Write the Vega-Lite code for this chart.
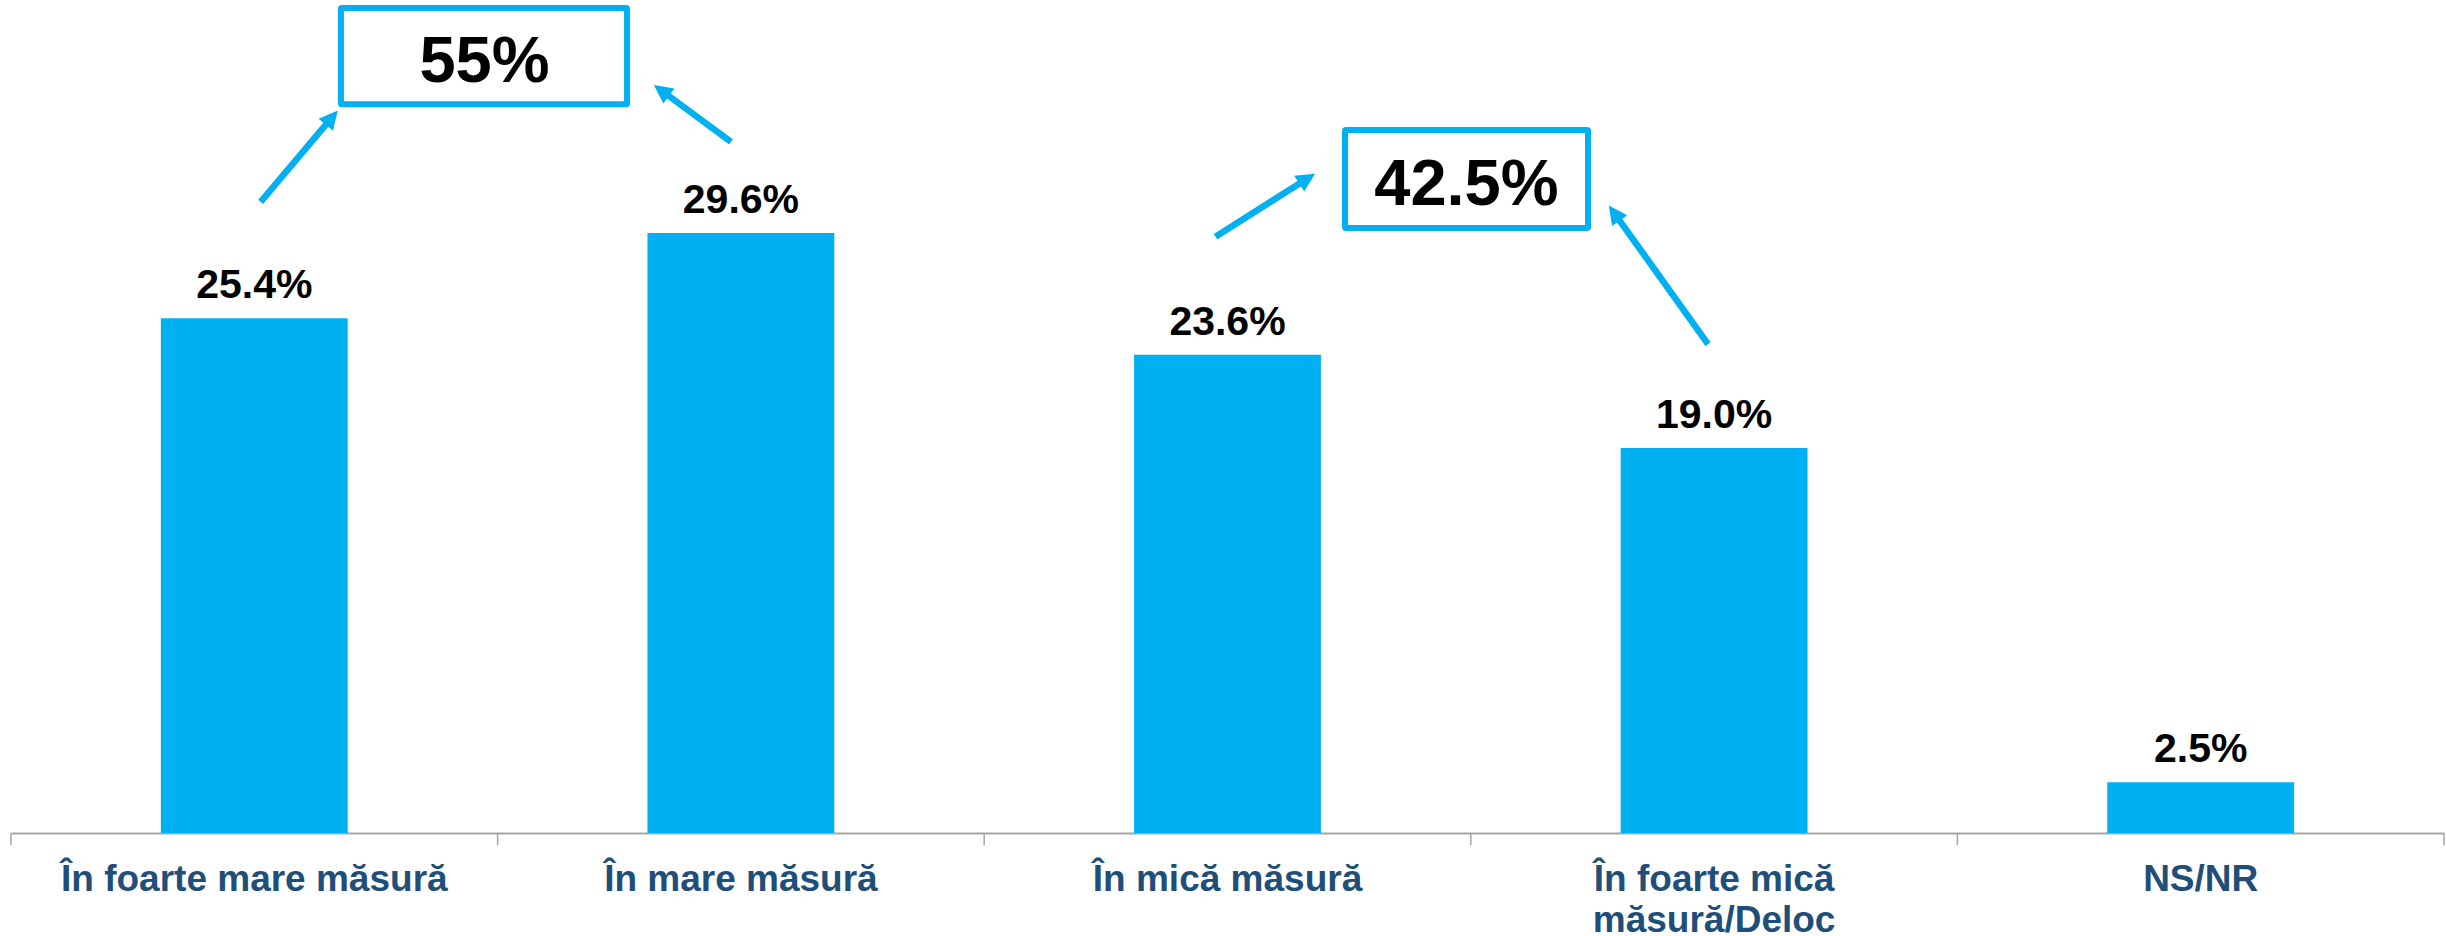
{
  "$schema": "https://vega.github.io/schema/vega-lite/v6.json",
  "width": 2433,
  "height": 833,
  "autosize": {"type": "none"},
  "padding": {"left": 11, "top": 0, "right": 2, "bottom": 103},
  "config": {"font": "Liberation Sans", "view": {"stroke": null}},
  "datasets": {
    "bars": [
      {"cat": "În foarte mare măsură", "v": 25.4},
      {"cat": "În mare măsură", "v": 29.6},
      {"cat": "În mică măsură", "v": 23.6},
      {"cat": "În foarte mică măsură/Deloc", "v": 19.0},
      {"cat": "NS/NR", "v": 2.5}
    ],
    "ticks": [{"b": 0}, {"b": 1}, {"b": 2}, {"b": 3}, {"b": 4}, {"b": 5}],
    "arrows": [
      {"id": 1, "x": 0.5131, "y": 31.14, "tx": 0.6580, "ty": 35.26},
      {"id": 2, "x": 1.4797, "y": 34.10, "tx": 1.3381, "ty": 36.61},
      {"id": 3, "x": 2.4753, "y": 29.42, "tx": 2.6620, "ty": 32.26},
      {"id": 4, "x": 3.4875, "y": 24.12, "tx": 3.2959, "ty": 30.55}
    ],
    "boxes": [
      {"label": "55%", "x1": 0.678, "x2": 1.266, "y1": 35.96, "y2": 40.70, "xc": 0.973, "yb": 37.05},
      {"label": "42.5%", "x1": 2.7415, "x2": 3.2409, "y1": 29.85, "y2": 34.68, "xc": 2.991, "yb": 31.0}
    ]
  },
  "resolve": {"scale": {"x": "independent"}},
  "layer": [
    {
      "data": {"name": "bars"},
      "transform": [{"calculate": "format(datum.v, '.1f') + '%'", "as": "lbl"}],
      "encoding": {
        "x": {
          "field": "cat", "type": "nominal", "sort": null,
          "scale": {"paddingInner": 0.616, "paddingOuter": 0.308},
          "axis": {
            "title": null,
            "labelAngle": 0,
            "labelFont": "Liberation Sans",
            "labelFontSize": 37,
            "labelFontWeight": "bold",
            "labelColor": "#1F4E79",
            "labelLimit": 0,
            "labelPadding": 28,
            "labelLineHeight": 41,
            "labelBaseline": "top",
            "labelExpr": "datum.label == 'În foarte mică măsură/Deloc' ? ['În foarte mică', 'măsură/Deloc'] : datum.label",
            "ticks": false,
            "domainColor": "#A6A6A6",
            "domainWidth": 2
          }
        },
        "y": {"field": "v", "type": "quantitative", "scale": {"domain": [0, 41.1], "nice": false}, "axis": null}
      },
      "layer": [
        {"mark": {"type": "bar", "color": "#00B0F0"}},
        {"mark": {"type": "text", "font": "Liberation Sans", "fontSize": 41, "fontWeight": "bold", "color": "#000000", "baseline": "alphabetic", "dy": -20},
         "encoding": {"text": {"field": "lbl"}}}
      ]
    },
    {
      "data": {"name": "ticks"},
      "mark": {"type": "rule", "color": "#A6A6A6", "strokeWidth": 1.5, "clip": false},
      "encoding": {
        "x": {"field": "b", "type": "quantitative", "scale": {"domain": [0, 5], "nice": false, "zero": false}, "axis": null},
        "y": {"datum": 0, "type": "quantitative", "scale": {"domain": [0, 41.1], "nice": false}, "axis": null},
        "y2": {"datum": -0.6}
      }
    },
    {
      "data": {"name": "arrows"},
      "mark": {"type": "rule", "color": "#00B0F0", "strokeWidth": 6.5, "strokeCap": "butt"},
      "encoding": {
        "x": {"field": "x", "type": "quantitative", "scale": {"domain": [0, 5], "nice": false, "zero": false}, "axis": null},
        "y": {"field": "y", "type": "quantitative", "scale": {"domain": [0, 41.1], "nice": false}, "axis": null},
        "x2": {"field": "tx"},
        "y2": {"field": "ty"}
      }
    },
    {
      "data": {"name": "arrows"},
      "transform": [{"filter": "datum.id == 1"}],
      "mark": {"type": "point", "shape": "M0,-0.55L-0.5,0.45L0.5,0.45Z", "size": 1400, "filled": true, "opacity": 1, "color": "#00B0F0", "angle": 40.2},
      "encoding": {
        "x": {"field": "tx", "type": "quantitative", "scale": {"domain": [0, 5], "nice": false, "zero": false}, "axis": null},
        "y": {"field": "ty", "type": "quantitative", "scale": {"domain": [0, 41.1], "nice": false}, "axis": null}
      }
    },
    {
      "data": {"name": "arrows"},
      "transform": [{"filter": "datum.id == 2"}],
      "mark": {"type": "point", "shape": "M0,-0.55L-0.5,0.45L0.5,0.45Z", "size": 1400, "filled": true, "opacity": 1, "color": "#00B0F0", "angle": -53.6},
      "encoding": {
        "x": {"field": "tx", "type": "quantitative", "scale": {"domain": [0, 5], "nice": false, "zero": false}, "axis": null},
        "y": {"field": "ty", "type": "quantitative", "scale": {"domain": [0, 41.1], "nice": false}, "axis": null}
      }
    },
    {
      "data": {"name": "arrows"},
      "transform": [{"filter": "datum.id == 3"}],
      "mark": {"type": "point", "shape": "M0,-0.55L-0.5,0.45L0.5,0.45Z", "size": 1400, "filled": true, "opacity": 1, "color": "#00B0F0", "angle": 57.6},
      "encoding": {
        "x": {"field": "tx", "type": "quantitative", "scale": {"domain": [0, 5], "nice": false, "zero": false}, "axis": null},
        "y": {"field": "ty", "type": "quantitative", "scale": {"domain": [0, 41.1], "nice": false}, "axis": null}
      }
    },
    {
      "data": {"name": "arrows"},
      "transform": [{"filter": "datum.id == 4"}],
      "mark": {"type": "point", "shape": "M0,-0.55L-0.5,0.45L0.5,0.45Z", "size": 1400, "filled": true, "opacity": 1, "color": "#00B0F0", "angle": -35.6},
      "encoding": {
        "x": {"field": "tx", "type": "quantitative", "scale": {"domain": [0, 5], "nice": false, "zero": false}, "axis": null},
        "y": {"field": "ty", "type": "quantitative", "scale": {"domain": [0, 41.1], "nice": false}, "axis": null}
      }
    },
    {
      "data": {"name": "boxes"},
      "mark": {"type": "rect", "fill": "#FFFFFF", "stroke": "#00B0F0", "strokeWidth": 6, "cornerRadius": 1},
      "encoding": {
        "x": {"field": "x1", "type": "quantitative", "scale": {"domain": [0, 5], "nice": false, "zero": false}, "axis": null},
        "x2": {"field": "x2"},
        "y": {"field": "y1", "type": "quantitative", "scale": {"domain": [0, 41.1], "nice": false}, "axis": null},
        "y2": {"field": "y2"}
      }
    },
    {
      "data": {"name": "boxes"},
      "mark": {"type": "text", "font": "Liberation Sans", "fontSize": 65, "fontWeight": "bold", "color": "#000000", "baseline": "alphabetic", "align": "center"},
      "encoding": {
        "x": {"field": "xc", "type": "quantitative", "scale": {"domain": [0, 5], "nice": false, "zero": false}, "axis": null},
        "y": {"field": "yb", "type": "quantitative", "scale": {"domain": [0, 41.1], "nice": false}, "axis": null},
        "text": {"field": "label"}
      }
    }
  ]
}
